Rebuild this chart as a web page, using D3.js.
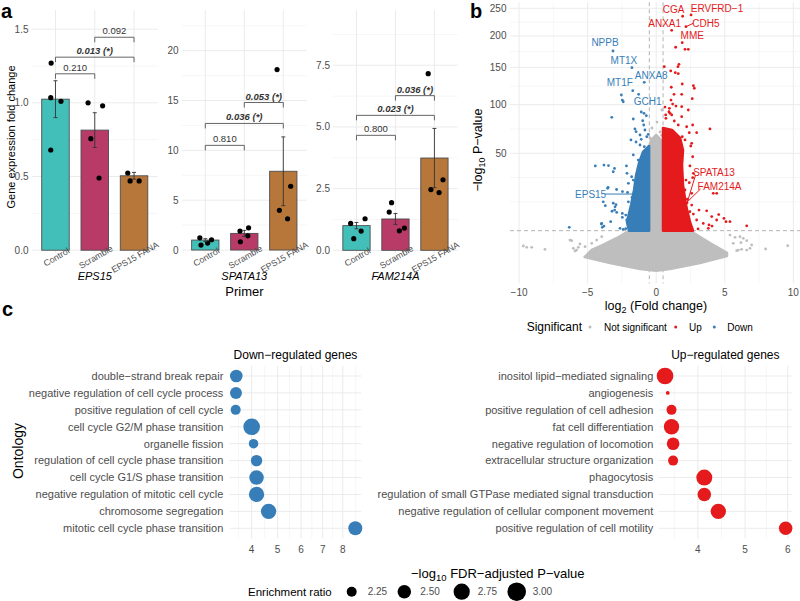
<!DOCTYPE html>
<html><head><meta charset="utf-8">
<script src="https://cdn.jsdelivr.net/npm/d3@7/dist/d3.min.js"></script>
<style>
html,body{margin:0;padding:0;background:#fff;}
svg{display:block;}
text{font-family:"Liberation Sans",Arial,Helvetica,sans-serif;}
</style></head><body>
<svg id="fig" width="800" height="601"></svg>
<script>
// ================= DATA =================
// ---- panel a ----
const groups = ["Control", "Scramble", "EPS15 FANA"];
const primerGenes = ["EPS15", "SPATA13", "FAM214A"];
const comparisons = [[0, 1], [0, 2], [1, 2]];

const eps15Mean = [1.025, 0.815, 0.505];
const eps15SE = [0.125, 0.118, 0.023];
const eps15Points = [[1.27, 1.035, 1.01, 0.68], [1.0, 0.98, 0.757, 0.49], [0.524, 0.47, 0.47]];
const eps15Jitter = [[-0.11, -0.12, 0.14, -0.12], [-0.17, 0.2, -0.1, 0.11], [-0.16, -0.1, 0.13]];
const eps15BracketY = [1.197, 1.31, 1.445];
const eps15PLabels = ["0.210", "0.013 (*)", "0.092"];

const spata13Mean = [1.0, 1.67, 7.9];
const spata13SE = [0.14, 0.3, 3.45];
const spata13Points = [[1.23, 0.5, 0.7, 1.03], [1.9, 2.23, 1.43, 0.83], [18.1, 6.4, 3.98, 3.14]];
const spata13Jitter = [[-0.14, -0.11, 0.06, 0.16], [-0.11, 0.11, 0.09, -0.1], [-0.16, 0.19, -0.1, 0.11]];
const spata13BracketY = [10.5, 12.7, 14.8];
const spata13PLabels = ["0.810", "0.036 (*)", "0.053 (*)"];

const fam214aMean = [1.0, 1.27, 3.74];
const fam214aSE = [0.13, 0.22, 1.2];
const fam214aPoints = [[1.09, 1.28, 0.78, 0.47], [1.93, 1.55, 0.9, 0.79], [7.16, 2.86, 2.46, 2.34]];
const fam214aJitter = [[-0.15, 0.22, 0.12, -0.07], [-0.1, -0.16, 0.23, 0.1], [-0.16, 0.22, -0.09, 0.12]];
const fam214aBracketY = [4.66, 5.47, 6.27];
const fam214aPLabels = ["0.800", "0.023 (*)", "0.036 (*)"];

// ---- panel b (volcano): [log2 fold change, -log10 P] ----
const volcanoThreshold = 5.8;
const foldThreshold = 0.5;
// dense regions (outlines of the packed point clouds)
const nsCloud = [[-5.21,0.67],[-4.7,1.54],[-3.88,2.38],[-2.86,3.86],[-2.13,5.41],[-2.0,5.8],[-0.52,5.8],[-0.52,52.8],[-0.38,61.9],[0,66.8],[0.35,61.9],[0.5,52.8],[0.5,5.8],[2.46,5.8],[2.97,4.6],[3.92,2.77],[5.16,1.13],[5.16,0.77],[3.19,0.21],[1.0,0.01],[0,0],[-1.18,0.01],[-3.37,0.21]];
const downCore = [[-0.52,5.8],[-1.98,5.8],[-2.13,8.58],[-1.83,15.6],[-1.61,23.6],[-1.46,33.2],[-1.25,42.1],[-0.96,51.1],[-0.52,56.4]];
const upCore = [[0.5,5.8],[2.68,5.8],[2.46,8.58],[2.17,15.6],[1.95,26.6],[1.88,40.5],[1.95,52.8],[1.74,63.9],[1.15,71.9],[0.5,73.9]];
// individual points
const nsPoints = [[-9.69,2.2],[-9.44,1.97],[-9.08,1.97],[-8.11,1.65],[-6.29,3.4],[-6.04,1.81],[-5.8,1.54],[-5.68,1.97],[-5.92,1.4],[-6.16,3.25],[-5.19,2.08],[-4.7,2.71],[-4.34,3.4],[-3.97,4.18],[-5.56,2.57],
  [5.38,4.6],[5.75,4.03],[6.11,4.18],[6.35,3.79],[6.18,2.83],[6.6,3.25],[6.96,2.38],[5.62,2.71],[5.99,1.54],[6.6,1.54],[6.84,1.81],[7.98,1.7],[9.59,2.25],[5.87,1.44],[6.23,1.65],
  [-0.31,73.9],[0.06,80.2],[0.28,69.8],[-0.45,63.9],[0.42,93.7],[0.4,66.5],[-0.5,53.0]];
const downPoints = [[-3.15,175.2],[-1.77,149.6],[-0.87,128.8],[-1.71,117.6],[-1.28,112.9],[-2.54,112.0],[-2.47,105.7],[-2.40,103.6],[-3.24,85.4],[-1.09,91.4],[-0.89,89.9],[-0.72,87.2],[-1.67,83.5],[-0.98,81.6],[-0.91,77.0],[-1.55,72.9],[-0.82,71.8],[-1.47,70.1],[-1.18,66.8],[-0.58,67.5],[-0.69,65.1],[-1.84,62.0],[-1.09,62.6],[-1.47,60.1],[-1.18,57.3],[-0.87,55.8],[-1.67,48.6],[-1.31,44.4],[-0.94,50.0],[-0.69,52.8],
  [-4.44,39.8],[-3.81,40.5],[-3.48,40.1],[-3.04,37.9],[-2.17,39.8],[-3.13,35.5],[-2.13,34.4],[-1.79,32.0],[-1.67,29.8],[-2.03,27.7],[-3.51,25.2],[-2.89,23.9],[-2.46,22.7],[-2.09,22.2],[-1.62,21.7],[-1.76,19.5],[-2.03,17.2],[-3.86,17.2],[-3.71,15.3],[-2.93,15.8],[-3.13,16.5],[-3.0,14.8],[-3.03,13.3],[-3.22,12.8],[-2.88,12.3],[-2.47,11.9],[-2.22,11.2],[-2.47,10.3],[-2.15,9.3],[-1.89,9.9],[-3.32,8.7],[-1.98,8.1],[-4.0,7.9],[-3.93,6.8],[-3.81,7.2],[-6.34,6.8],[-2.64,6.5],[-2.4,6.2],[-2.22,6.4],[-3.54,24.6],[-3.97,8.1],[-1.5,21.3]];
const upPoints = [[1.93,235.0],[2.54,237.4],[1.13,209.8],[2.17,216.1],[1.90,188.7],[1.42,181.2],[2.10,177.9],[2.34,177.9],[1.66,154.6],[1.59,151.1],[0.59,151.1],[1.06,144.8],[1.39,142.3],[1.61,140.9],[1.90,126.5],[2.71,124.2],[2.78,120.8],[1.10,122.1],[1.30,112.9],[1.86,112.9],[2.63,107.4],[1.08,105.7],[1.20,100.8],[1.44,98.4],[0.64,97.2],[0.96,95.7],[1.86,97.6],[2.34,93.7],[0.93,91.7],[1.01,89.9],[1.13,88.0],[0.69,88.0],[0.71,84.3],[1.86,86.1],[2.66,77.0],[3.92,72.9],[1.32,81.3],[1.61,77.0],[2.22,75.2],[2.41,69.1],[2.95,69.1],[1.90,65.1],[2.10,62.0],[2.59,58.9],[2.52,56.4],
  [2.66,47.1],[2.46,39.8],[2.71,34.4],[2.66,31.4],[2.17,29.8],[2.41,28.1],[2.10,23.6],[2.59,21.7],[1.74,19.8],[2.27,18.5],[4.16,21.7],[4.41,21.7],[1.98,16.5],[2.59,15.6],[3.12,13.3],[3.68,13.0],[4.56,11.4],[2.46,12.6],[2.71,11.6],[4.05,10.6],[4.41,9.3],[4.94,9.9],[5.38,8.7],[2.95,9.3],[3.43,8.1],[3.85,7.6],[3.80,6.5],[6.60,7.3],[2.34,7.6],[2.59,6.5],[1.98,9.9],[2.22,8.7],[2.25,16.6],[1.52,12.5],[5.09,8.7],[3.05,6.3],[4.07,7.2]];
const labelledGenes = ["NPPB", "MT1X", "ANXA8", "MT1F", "GCH1", "EPS15", "CGA", "ERVFRD\u22121", "ANXA1", "CDH5", "MME", "SPATA13", "FAM214A"];
const labelledFC = [-3.15, -1.77, -0.87, -1.71, -1.28, -1.5, 1.93, 2.54, 1.13, 2.17, 1.90, 2.25, 1.52];
const labelledP = [175.2, 149.6, 128.8, 117.6, 112.9, 21.3, 235.0, 237.4, 209.8, 216.1, 188.7, 16.6, 12.5];
const volcanoBreaksX = [-10, -5, 0, 5, 10];
const volcanoBreaksY = [50, 100, 150, 200, 250];

// ---- panel c ----
const downTerms = ["double\u2212strand break repair", "negative regulation of cell cycle process", "positive regulation of cell cycle", "cell cycle G2/M phase transition", "organelle fission", "regulation of cell cycle phase transition", "cell cycle G1/S phase transition", "negative regulation of mitotic cell cycle", "chromosome segregation", "mitotic cell cycle phase transition"];
const downLogFDR = [3.46, 3.45, 3.44, 4.0, 4.07, 4.18, 4.18, 4.18, 4.64, 8.66];
const downRatio = [2.43, 2.38, 2.25, 2.79, 2.22, 2.34, 2.59, 2.66, 2.66, 2.54];
const upTerms = ["inositol lipid\u2212mediated signaling", "angiogenesis", "positive regulation of cell adhesion", "fat cell differentiation", "negative regulation of locomotion", "extracellular structure organization", "phagocytosis", "regulation of small GTPase mediated signal transduction", "negative regulation of cellular component movement", "positive regulation of cell motility"];
const upLogFDR = [3.37, 3.42, 3.49, 3.49, 3.52, 3.52, 4.13, 4.13, 4.42, 5.95];
const upRatio = [2.79, 1.99, 2.25, 2.66, 2.43, 2.25, 2.72, 2.5, 2.66, 2.5];
const downBreaks = [4, 5, 6, 7, 8];
const upBreaks = [4, 5, 6];
const ratioLegend = [2.25, 2.50, 2.75, 3.00];

// ================= DRAWING =================
const svg = d3.select("#fig");
const GRID = "#ebebeb", GRID_MINOR = "#f4f4f4", TXT = "#4d4d4d";
const COL_BAR = ["#43bfba", "#b83b67", "#b8773a"];
const RED = "#e41a1c", BLUE = "#377eb8", GREY = "#bebebe";

// minor breaks as ggplot computes them (in transformed space)
function minorBreaks(majors, lim, tf = v => v, inv = v => v) {
  let b = majors.map(tf);
  const L = lim.map(tf), bd = b[1] - b[0];
  const ext = [];
  if (L[0] < b[0]) { b = [b[0] - bd, ...b]; ext.push(b[0]); }
  if (L[1] > b[b.length - 1]) { b = [...b, b[b.length - 1] + bd]; ext.push(b[b.length - 1]); }
  const out = ext.slice();
  for (let i = 0; i < b.length - 1; i++) out.push((b[i] + b[i + 1]) / 2);
  return out.filter(v => v >= L[0] && v <= L[1]).map(inv);
}
const sqrtT = v => Math.sign(v) * Math.sqrt(Math.abs(v));
const sqrtInv = s => Math.sign(s) * s * s;

function letter(t, x, y) {
  svg.append("text").attr("x", x).attr("y", y).attr("font-size", 20).attr("font-weight", "bold").attr("fill", "#000").text(t);
}

// ---------- panel a ----------
const barPanels = [
  { gene: primerGenes[0], mean: eps15Mean, se: eps15SE, pts: eps15Points, jit: eps15Jitter, by: eps15BracketY, pl: eps15PLabels,
    dom: [-0.08, 1.63], ticks: [0, 0.5, 1, 1.5], fmt: d3.format(".1f"), x0: 31.9, x1: 157.6, lab: 28.5 },
  { gene: primerGenes[1], mean: spata13Mean, se: spata13SE, pts: spata13Points, jit: spata13Jitter, by: spata13BracketY, pl: spata13PLabels,
    dom: [-1.2, 24.08], ticks: [0, 5, 10, 15, 20], fmt: d3.format("d"), x0: 181.9, x1: 306.7, lab: 178.5 },
  { gene: primerGenes[2], mean: fam214aMean, se: fam214aSE, pts: fam214aPoints, jit: fam214aJitter, by: fam214aBracketY, pl: fam214aPLabels,
    dom: [-0.474, 9.74], ticks: [0, 2.5, 5, 7.5], fmt: d3.format(".1f"), x0: 333.1, x1: 457.8, lab: 330 }
];
const aTop = 10, aBot = 262, aGridBot = 253;
barPanels.forEach(p => {
  const g = svg.append("g");
  const x = d3.scaleLinear().domain([-0.6, 2.6]).range([p.x0, p.x1]);
  const y = d3.scaleLinear().domain(p.dom).range([aBot, aTop]);
  // grid
  minorBreaks(p.ticks, p.dom).forEach(v => g.append("line").attr("x1", p.x0).attr("x2", p.x1).attr("y1", y(v)).attr("y2", y(v)).attr("stroke", GRID_MINOR).attr("stroke-width", 0.8));
  p.ticks.forEach(v => g.append("line").attr("x1", p.x0).attr("x2", p.x1).attr("y1", y(v)).attr("y2", y(v)).attr("stroke", GRID).attr("stroke-width", 1));
  groups.forEach((_, i) => g.append("line").attr("x1", x(i)).attr("x2", x(i)).attr("y1", aTop).attr("y2", aGridBot).attr("stroke", GRID).attr("stroke-width", 1));
  // y tick labels
  p.ticks.forEach(v => g.append("text").attr("x", p.lab).attr("y", y(v)).attr("dy", "0.35em").attr("text-anchor", "end")
    .attr("font-size", 10).attr("fill", TXT).text(p.fmt(v)));
  // bars
  groups.forEach((_, i) => {
    g.append("rect").attr("x", x(i - 0.35)).attr("width", x(i + 0.35) - x(i - 0.35))
      .attr("y", y(p.mean[i])).attr("height", y(0) - y(p.mean[i]))
      .attr("fill", COL_BAR[i]).attr("stroke", "#4d4d4d").attr("stroke-width", 0.9);
  });
  // points
  groups.forEach((_, i) => p.pts[i].forEach((v, k) => {
    g.append("circle").attr("cx", x(i + p.jit[i][k])).attr("cy", y(v)).attr("r", 2.6).attr("fill", "#000");
  }));
  // error bars
  groups.forEach((_, i) => {
    const lo = y(p.mean[i] - p.se[i]), hi = y(p.mean[i] + p.se[i]), cx = x(i);
    g.append("path").attr("d", `M${cx},${lo}V${hi}M${cx - 2},${lo}H${cx + 2}M${cx - 2},${hi}H${cx + 2}`)
      .attr("stroke", "#333").attr("stroke-width", 0.9).attr("fill", "none");
  });
  // brackets
  comparisons.forEach((c, k) => {
    const yy = y(p.by[k]), xa = x(c[0]), xb = x(c[1]);
    g.append("path").attr("d", `M${xa},${yy + 5}V${yy}H${xb}V${yy + 5}`).attr("stroke", "#555").attr("stroke-width", 0.9).attr("fill", "none");
    const sig = p.pl[k].includes("*");
    g.append("text").attr("x", (xa + xb) / 2).attr("y", yy - 3).attr("text-anchor", "middle").attr("font-size", 9.5)
      .attr("fill", "#333").attr("font-weight", sig ? "bold" : "normal").attr("font-style", sig ? "italic" : "normal").text(p.pl[k]);
  });
  // x tick labels (rotated)
  groups.forEach((gname, i) => g.append("text").attr("transform", `translate(${x(i) + 1},257) rotate(-30)`)
    .attr("text-anchor", "middle").attr("dy", "0.35em").attr("font-size", 8.8).attr("fill", TXT).text(gname));
  // gene strip
  g.append("text").attr("x", x(1)).attr("y", 280).attr("text-anchor", "middle").attr("font-size", 11)
    .attr("font-style", "italic").attr("fill", "#000").text(p.gene);
});
svg.append("text").attr("x", 244.5).attr("y", 296).attr("text-anchor", "middle").attr("font-size", 13).attr("fill", "#000").text("Primer");
svg.append("text").attr("transform", "translate(11,137) rotate(-90)").attr("text-anchor", "middle").attr("dy", "0.35em")
  .attr("font-size", 11).attr("fill", "#000").text("Gene expression fold change");
letter("a", 1, 18);

// ---------- panel b ----------
{
  const bx0 = 510, bx1 = 800.2, by0 = 283.4, by1 = 2.3;
  const x = d3.scaleLinear().domain([-10.66, 10.5]).range([bx0, bx1]);
  const y = d3.scalePow().exponent(0.5).domain([-0.593, 261.5]).range([by0, by1]);
  const g = svg.append("g");
  const xd = x.domain(), yd = y.domain();
  minorBreaks(volcanoBreaksX, xd).forEach(v => g.append("line").attr("x1", x(v)).attr("x2", x(v)).attr("y1", by1).attr("y2", by0).attr("stroke", GRID_MINOR).attr("stroke-width", 0.8));
  minorBreaks(volcanoBreaksY, yd, sqrtT, sqrtInv).forEach(v => g.append("line").attr("x1", bx0).attr("x2", bx1).attr("y1", y(v)).attr("y2", y(v)).attr("stroke", GRID_MINOR).attr("stroke-width", 0.8));
  volcanoBreaksX.forEach(v => g.append("line").attr("x1", x(v)).attr("x2", x(v)).attr("y1", by1).attr("y2", by0).attr("stroke", GRID).attr("stroke-width", 1));
  volcanoBreaksY.forEach(v => g.append("line").attr("x1", bx0).attr("x2", bx1).attr("y1", y(v)).attr("y2", y(v)).attr("stroke", GRID).attr("stroke-width", 1));
  // thresholds
  [-foldThreshold, foldThreshold].forEach(v => g.append("line").attr("x1", x(v)).attr("x2", x(v)).attr("y1", by1).attr("y2", by0)
    .attr("stroke", "#b3b3b3").attr("stroke-width", 1).attr("stroke-dasharray", "4,3"));
  g.append("line").attr("x1", bx0).attr("x2", bx1).attr("y1", y(volcanoThreshold)).attr("y2", y(volcanoThreshold))
    .attr("stroke", "#b3b3b3").attr("stroke-width", 1).attr("stroke-dasharray", "4,3");
  const area = d3.line().x(d => x(d[0])).y(d => y(d[1])).curve(d3.curveLinearClosed);
  const blob = (data, col) => g.append("path").attr("d", area(data)).attr("fill", col).attr("stroke", col).attr("stroke-width", 2.6).attr("stroke-linejoin", "round");
  const dots = (data, col) => data.forEach(d => g.append("circle").attr("cx", x(d[0])).attr("cy", y(d[1])).attr("r", 1.4).attr("fill", col));
  blob(nsCloud, GREY); dots(nsPoints, GREY);
  blob(downCore, BLUE); dots(downPoints, BLUE);
  blob(upCore, RED); dots(upPoints, RED);
  // labels: offsets (px) of label centre from the point, and whether a leader is drawn
  const labelOffset = { "NPPB": [-8, -8], "MT1X": [-8, -7], "ANXA8": [7, -6.5], "MT1F": [-13, -8], "GCH1": [9, 7.5], "EPS15": [-45, 0],
    "CGA": [-9, -7], "ERVFRD\u22121": [26, -6], "ANXA1": [-7, -7], "CDH5": [20, -3.4], "MME": [10, -6.7], "SPATA13": [27, -31], "FAM214A": [42.5, -25.5] };
  const leader = { "EPS15": [-31, 0], "CDH5": [7.5, -3.5], "SPATA13": [8.5, -28], "FAM214A": [23.5, -23] };
  labelledGenes.forEach((name, i) => {
    const px = x(labelledFC[i]), py = y(labelledP[i]);
    const col = labelledFC[i] < 0 ? BLUE : RED;
    if (leader[name]) g.append("line").attr("x1", px).attr("y1", py).attr("x2", px + leader[name][0]).attr("y2", py + leader[name][1]).attr("stroke", col).attr("stroke-width", 1);
    const o = labelOffset[name];
    g.append("text").attr("x", px + o[0]).attr("y", py + o[1]).attr("dy", "0.35em").attr("text-anchor", "middle").attr("font-size", 10).attr("fill", col).text(name);
  });
  // axes text
  volcanoBreaksX.forEach(v => g.append("text").attr("x", x(v)).attr("y", 292).attr("dy", "0.35em").attr("text-anchor", "middle").attr("font-size", 10).attr("fill", TXT).text(v < 0 ? "\u2212" + Math.abs(v) : v));
  volcanoBreaksY.forEach(v => g.append("text").attr("x", 506.5).attr("y", y(v)).attr("dy", "0.35em").attr("text-anchor", "end").attr("font-size", 10).attr("fill", TXT).text(v));
  const xl = g.append("text").attr("x", 656).attr("y", 309.5).attr("text-anchor", "middle").attr("font-size", 12.5).attr("fill", "#000");
  xl.append("tspan").text("log");
  xl.append("tspan").attr("font-size", 9).attr("dy", 3).text("2");
  xl.append("tspan").attr("dy", -3).text(" (Fold change)");
  const yl = g.append("text").attr("transform", "translate(482,150) rotate(-90)").attr("text-anchor", "middle").attr("font-size", 12.5).attr("fill", "#000");
  yl.append("tspan").text("\u2212log");
  yl.append("tspan").attr("font-size", 9).attr("dy", 3).text("10");
  yl.append("tspan").attr("dy", -3).text(" P\u2212value");
  // legend
  g.append("text").attr("x", 526.7).attr("y", 331).attr("font-size", 12).attr("fill", "#000").text("Significant");
  const leg = [["Not significant", GREY, 590, 604], ["Up", RED, 675.7, 689], ["Down", BLUE, 714.3, 727.3]];
  leg.forEach(l => {
    g.append("circle").attr("cx", l[2]).attr("cy", 327).attr("r", 1.5).attr("fill", l[1]);
    g.append("text").attr("x", l[3]).attr("y", 330.5).attr("font-size", 10).attr("fill", "#000").text(l[0]);
  });
}
letter("b", 470, 18);

// ---------- panel c ----------
const areaScale = d3.scaleLinear().domain([2.25, 3.0]).range([25, 86.5]);
const rOf = v => Math.sqrt(Math.max(1, areaScale(v)));
const cTop = 365.9, cBot = 538.4;
const rowY = d3.scalePoint().domain(d3.range(10)).range([376, 528.3]);
function dotPanel(terms, vals, ratios, breaks, px0, px1, col, title, labelX) {
  const g = svg.append("g");
  const s = vals.map(Math.sqrt);
  const lo = d3.min(s), hi = d3.max(s), e = (hi - lo) * 0.05;
  const x = d3.scalePow().exponent(0.5).domain([sqrtInv(lo - e), sqrtInv(hi + e)]).range([px0, px1]);
  minorBreaks(breaks, x.domain(), sqrtT, sqrtInv).forEach(v => g.append("line").attr("x1", x(v)).attr("x2", x(v)).attr("y1", cTop).attr("y2", cBot).attr("stroke", GRID_MINOR).attr("stroke-width", 0.8));
  breaks.forEach(v => g.append("line").attr("x1", x(v)).attr("x2", x(v)).attr("y1", cTop).attr("y2", cBot).attr("stroke", GRID).attr("stroke-width", 1));
  terms.forEach((_, i) => g.append("line").attr("x1", px0).attr("x2", px1).attr("y1", rowY(i)).attr("y2", rowY(i)).attr("stroke", GRID).attr("stroke-width", 1));
  terms.forEach((t, i) => {
    g.append("circle").attr("cx", x(vals[i])).attr("cy", rowY(i)).attr("r", rOf(ratios[i])).attr("fill", col);
    g.append("text").attr("x", labelX).attr("y", rowY(i)).attr("dy", "0.35em").attr("text-anchor", "end").attr("font-size", 11).attr("fill", TXT).text(t);
  });
  breaks.forEach(v => g.append("text").attr("x", x(v)).attr("y", 549).attr("dy", "0.35em").attr("text-anchor", "middle").attr("font-size", 10).attr("fill", TXT).text(v));
  g.append("text").attr("x", (px0 + px1) / 2).attr("y", 359).attr("text-anchor", "middle").attr("font-size", 12).attr("fill", "#000").text(title);
}
dotPanel(downTerms, downLogFDR, downRatio, downBreaks, 229.7, 361.3, BLUE, "Down\u2212regulated genes", 223.3);
dotPanel(upTerms, upLogFDR, upRatio, upBreaks, 659, 791.7, RED, "Up\u2212regulated genes", 653.3);
svg.append("text").attr("transform", "translate(18.5,451) rotate(-90)").attr("text-anchor", "middle").attr("dy", "0.35em").attr("font-size", 14).attr("fill", "#000").text("Ontology");
{
  const t = svg.append("text").attr("x", 411).attr("y", 577.5).attr("font-size", 13).attr("fill", "#000");
  t.append("tspan").text("\u2212log");
  t.append("tspan").attr("font-size", 9.5).attr("dy", 3).text("10");
  t.append("tspan").attr("dy", -3).text(" FDR\u2212adjusted P\u2212value");
  svg.append("text").attr("x", 248).attr("y", 595.5).attr("font-size", 11.5).attr("fill", "#000").text("Enrichment ratio");
  const lx = [351.7, 404.3, 461.7, 516.7];
  ratioLegend.forEach((v, i) => {
    svg.append("circle").attr("cx", lx[i]).attr("cy", 591.7).attr("r", rOf(v)).attr("fill", "#000");
    svg.append("text").attr("x", lx[i] + 16).attr("y", 595.3).attr("font-size", 10).attr("fill", TXT).text(d3.format(".2f")(v));
  });
}
letter("c", 2, 316);
</script>
</body></html>
